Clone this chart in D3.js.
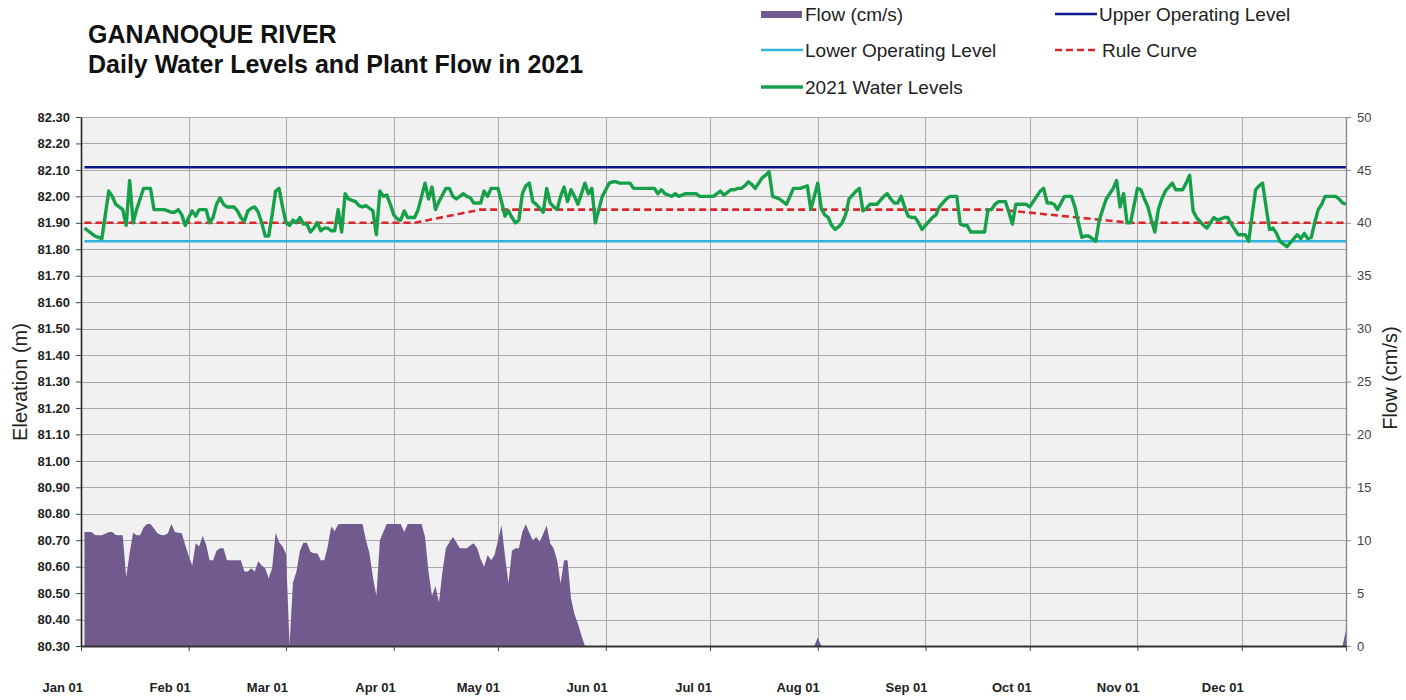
<!DOCTYPE html>
<html>
<head>
<meta charset="utf-8">
<script src="https://cdn.jsdelivr.net/npm/d3@7"></script>
<style>
  body { margin: 0; background: #fff; }
  text { font-family: "Liberation Sans", Arial, sans-serif; }
</style>
</head>
<body>
<script>
// ---- data ----
// first daily reading is day-of-year 1 (Jan 02)
var firstDay = 1;

// 2021 water levels (m), one value per day from Jan 02 to Dec 31
var levels = [
  81.88, 81.87, 81.86, 81.85, 81.845, 81.84, 81.93, 82.02, 82.00, 81.97,
  81.96, 81.95, 81.89, 82.06, 81.90, 81.95, 81.99, 82.03, 82.03, 82.03,
  81.95, 81.95, 81.95, 81.95, 81.945, 81.94, 81.94, 81.95, 81.93, 81.89,
  81.92, 81.945, 81.925, 81.95, 81.95, 81.95, 81.90, 81.92, 81.97, 81.995,
  81.97, 81.96, 81.96, 81.96, 81.945, 81.92, 81.905, 81.945, 81.955, 81.96,
  81.94, 81.90, 81.85, 81.85, 81.93, 82.02, 82.03, 81.96, 81.90, 81.89,
  81.91, 81.90, 81.92, 81.895, 81.895, 81.865, 81.88, 81.90, 81.87, 81.88,
  81.88, 81.87, 81.87, 81.95, 81.865, 82.01, 81.99, 81.985, 81.98, 81.965,
  81.96, 81.965, 81.955, 81.945, 81.855, 82.02, 82.00, 82.005, 81.97, 81.93,
  81.915, 81.91, 81.945, 81.92, 81.92, 81.92, 81.95, 82.00, 82.05, 81.99,
  82.035, 81.95, 81.98, 82.005, 82.03, 82.03, 82.00, 81.99, 82.00, 82.01,
  82.00, 81.995, 81.975, 81.975, 81.975, 82.02, 82.00, 82.03, 82.03, 82.03,
  81.98, 81.925, 81.945, 81.92, 81.90, 81.91, 82.01, 82.04, 82.05, 81.98,
  81.97, 81.955, 81.94, 82.03, 81.975, 81.96, 81.95, 82.00, 82.035, 81.98,
  82.025, 82.00, 81.97, 82.01, 82.05, 82.01, 82.03, 81.90, 81.95, 82.00,
  82.025, 82.05, 82.055, 82.055, 82.05, 82.05, 82.05, 82.05, 82.03, 82.03,
  82.03, 82.03, 82.03, 82.03, 82.03, 82.01, 82.025, 82.01, 82.005, 82.00,
  82.01, 82.00, 82.005, 82.01, 82.01, 82.01, 82.01, 82.00, 82.00, 82.00,
  82.00, 82.00, 82.01, 82.02, 82.005, 82.015, 82.025, 82.025, 82.03, 82.03,
  82.04, 82.055, 82.045, 82.03, 82.05, 82.07, 82.08, 82.093, 82.00, 81.995,
  81.99, 81.98, 81.97, 82.00, 82.03, 82.03, 82.03, 82.035, 82.04, 81.95,
  82.00, 82.05, 81.955, 81.93, 81.92, 81.89, 81.875, 81.885, 81.90, 81.93,
  81.99, 82.005, 82.02, 82.03, 81.945, 81.955, 81.97, 81.97, 81.97, 81.985,
  82.00, 82.01, 81.99, 81.975, 81.975, 82.00, 81.96, 81.925, 81.92, 81.92,
  81.90, 81.875, 81.89, 81.905, 81.92, 81.93, 81.96, 81.975, 81.99, 82.00,
  82.00, 82.00, 81.895, 81.89, 81.89, 81.865, 81.865, 81.865, 81.865, 81.865,
  81.95, 81.95, 81.97, 81.98, 81.98, 81.98, 81.94, 81.895, 81.97, 81.97,
  81.97, 81.97, 81.96, 81.98, 82.00, 82.02, 82.03, 81.975, 81.975, 81.97,
  81.95, 81.975, 82.00, 82.00, 82.00, 81.96, 81.90, 81.845, 81.85, 81.85,
  81.84, 81.83, 81.91, 81.95, 81.99, 82.01, 82.03, 82.06, 81.96, 82.01,
  81.90, 81.90, 81.965, 82.03, 82.025, 81.99, 81.96, 81.91, 81.865, 81.95,
  81.99, 82.02, 82.035, 82.05, 82.025, 82.025, 82.025, 82.05, 82.08, 81.945,
  81.92, 81.905, 81.89, 81.88, 81.90, 81.92, 81.91, 81.915, 81.92, 81.92,
  81.895, 81.875, 81.855, 81.855, 81.855, 81.83, 81.93, 82.025, 82.04, 82.05,
  81.96, 81.875, 81.88, 81.86, 81.83, 81.82, 81.81, 81.825, 81.84, 81.855,
  81.84, 81.86, 81.84, 81.845, 81.90, 81.95, 81.97, 82.00, 82.00, 82.00,
  82.00, 81.99, 81.975, 81.97
];

// plant flow (cm/s), same days
var flows = [
  10.78, 10.78, 10.78, 10.5, 10.46, 10.46, 10.6, 10.78, 10.78, 10.5,
  10.46, 10.46, 6.5, 8.8, 10.7, 10.46, 10.46, 11.2, 11.53, 11.53,
  11.1, 10.65, 10.5, 10.46, 10.65, 11.53, 10.78, 10.7, 10.65, 9.55,
  8.5, 7.6, 9.7, 9.4, 10.4, 9.6, 8.1, 8.1, 9.0, 9.25,
  9.25, 8.1, 8.1, 8.1, 8.1, 8.1, 7.03, 7.03, 7.34, 7.03,
  8.0, 7.6, 7.34, 6.4, 7.34, 10.7, 9.8, 9.4, 8.7, 0.1,
  6.0, 7.03, 9.0, 9.77, 9.77, 8.9, 8.76, 8.76, 8.1, 8.1,
  9.4, 11.3, 10.84, 11.5, 11.53, 11.53, 11.53, 11.53, 11.53, 11.53,
  11.53, 10.0, 8.76, 6.5, 4.73, 10.0, 10.8, 11.53, 11.53, 11.53,
  11.53, 11.53, 10.78, 11.53, 11.53, 11.53, 11.53, 11.53, 10.3, 7.0,
  4.73, 5.67, 4.1, 7.0, 9.25, 9.8, 10.3, 9.8, 9.25, 9.25,
  9.25, 9.5, 9.7, 9.25, 8.2, 7.5, 8.6, 8.1, 8.6, 10.0,
  11.4, 8.5, 5.9, 9.0, 9.25, 9.25, 10.8, 11.5, 10.7, 10.0,
  10.3, 9.85, 10.6, 11.4, 9.7, 9.25, 8.1, 5.9, 8.1, 8.1,
  4.5, 3.0, 2.1, 1.0, 0, 0, 0, 0, 0, 0,
  0, 0, 0, 0, 0, 0, 0, 0, 0, 0, 0, 0, 0, 0, 0, 0, 0, 0, 0, 0, 0, 0, 0, 0, 0, 0, 0, 0, 0, 0,
  0, 0, 0, 0, 0, 0, 0, 0, 0, 0, 0, 0, 0, 0, 0, 0, 0, 0, 0, 0, 0, 0, 0, 0, 0, 0, 0, 0, 0, 0,
  0, 0.8, 0, 0, 0, 0, 0, 0, 0, 0, 0, 0, 0, 0, 0, 0, 0, 0, 0, 0, 0, 0, 0, 0, 0, 0, 0, 0, 0, 0,
  0, 0, 0, 0, 0, 0, 0, 0, 0, 0, 0, 0, 0, 0, 0, 0, 0, 0, 0, 0, 0, 0, 0, 0, 0, 0, 0, 0, 0, 0,
  0, 0, 0, 0, 0, 0, 0, 0, 0, 0, 0, 0, 0, 0, 0, 0, 0, 0, 0, 0, 0, 0, 0, 0, 0, 0, 0, 0, 0, 0,
  0, 0, 0, 0, 0, 0, 0, 0, 0, 0, 0, 0, 0, 0, 0, 0, 0, 0, 0, 0, 0, 0, 0, 0, 0, 0, 0, 0, 0, 0,
  0, 0, 0, 0, 0, 0, 0, 0, 0, 0, 0, 0, 0, 0, 0, 0, 0, 0, 0, 0, 0, 0, 0, 0, 0, 0, 0, 0, 0, 0,
  0, 0, 0, 1.5
];

// operating levels (m)
var upperLevel = 82.11;
var lowerLevel = 81.83;

// rule curve breakpoints (day of year, m)
var ruleDays   = [1, 96, 115, 264, 302, 364];
var ruleValues = [81.90, 81.90, 81.95, 81.95, 81.90, 81.90];

// axis ticks
var elevTicks = [80.30, 80.40, 80.50, 80.60, 80.70, 80.80, 80.90, 81.00, 81.10, 81.20, 81.30,
                 81.40, 81.50, 81.60, 81.70, 81.80, 81.90, 82.00, 82.10, 82.20, 82.30];
var flowTicks = [0, 5, 10, 15, 20, 25, 30, 35, 40, 45, 50];
var monthLabels = ["Jan 01", "Feb 01", "Mar 01", "Apr 01", "May 01", "Jun 01",
                   "Jul 01", "Aug 01", "Sep 01", "Oct 01", "Nov 01", "Dec 01"];

var titleLines = ["GANANOQUE RIVER", "Daily Water Levels and Plant Flow in 2021"];
var legendNames = ["Flow (cm/s)", "Upper Operating Level", "Lower Operating Level",
                   "Rule Curve", "2021 Water Levels"];

// ---- colours ----
var cFlow = "#705a8e", cUpper = "#0c1a8c", cLower = "#36b3dc",
    cRule = "#d9262b", cLevel = "#17a04a";

// ---- layout ----
var width = 1406, height = 700;
var plot = {left: 81, right: 1346, top: 117, bottom: 646};

var svg = d3.select("body").append("svg")
    .attr("width", width)
    .attr("height", height);

var jan1 = new Date(2021, 0, 1);
function dayDate(d) { return d3.timeDay.offset(jan1, d); }

var x = d3.scaleTime()
    .domain([jan1, new Date(2021, 11, 31)])
    .range([plot.left, plot.right]);
var yElev = d3.scaleLinear().domain([80.3, 82.3]).range([plot.bottom, plot.top]);
var yFlow = d3.scaleLinear().domain([0, 50]).range([plot.bottom, plot.top]);

var months = d3.timeMonth.range(jan1, new Date(2022, 0, 1));

// plot background
svg.append("rect")
    .attr("x", plot.left).attr("y", plot.top)
    .attr("width", plot.right - plot.left)
    .attr("height", plot.bottom - plot.top)
    .attr("fill", "#f1f1f1");

// grid
var grid = svg.append("g").attr("stroke", "#a9a9a9").attr("stroke-width", 1);
grid.selectAll("line.h")
    .data(elevTicks.slice(1))
    .enter().append("line")
    .attr("x1", plot.left).attr("x2", plot.right)
    .attr("y1", function(d) { return Math.round(yElev(d)) + 0.5; })
    .attr("y2", function(d) { return Math.round(yElev(d)) + 0.5; });
grid.selectAll("line.v")
    .data(months.slice(1))
    .enter().append("line")
    .attr("y1", plot.top).attr("y2", plot.bottom)
    .attr("x1", function(d) { return Math.round(x(d)) + 0.5; })
    .attr("x2", function(d) { return Math.round(x(d)) + 0.5; });

// flow area (right axis)
var flowPts = flows.map(function(v, i) { return {date: dayDate(firstDay + i), v: v}; });
svg.append("path")
    .datum(flowPts)
    .attr("fill", cFlow)
    .attr("d", d3.area()
        .x(function(d) { return x(d.date); })
        .y0(yFlow(0))
        .y1(function(d) { return yFlow(d.v); }));

// operating levels
var firstDate = dayDate(firstDay), lastDate = dayDate(firstDay + levels.length - 1);
svg.append("line")
    .attr("x1", x(firstDate)).attr("x2", x(lastDate))
    .attr("y1", yElev(upperLevel)).attr("y2", yElev(upperLevel))
    .attr("stroke", cUpper).attr("stroke-width", 2.6);
svg.append("line")
    .attr("x1", x(firstDate)).attr("x2", x(lastDate))
    .attr("y1", yElev(lowerLevel)).attr("y2", yElev(lowerLevel))
    .attr("stroke", cLower).attr("stroke-width", 2.6);

// rule curve
var rulePts = ruleDays.map(function(d, i) { return {date: dayDate(d), v: ruleValues[i]}; });
var lineGen = d3.line()
    .x(function(d) { return x(d.date); })
    .y(function(d) { return yElev(d.v); });
svg.append("path")
    .datum(rulePts)
    .attr("fill", "none")
    .attr("stroke", cRule)
    .attr("stroke-width", 2.6)
    .attr("stroke-dasharray", "7,4")
    .attr("d", lineGen);

// water levels
var levelPts = levels.map(function(v, i) { return {date: dayDate(firstDay + i), v: v}; });
svg.append("path")
    .datum(levelPts)
    .attr("fill", "none")
    .attr("stroke", cLevel)
    .attr("stroke-width", 3.4)
    .attr("stroke-linejoin", "round")
    .attr("d", lineGen);

// left axis
var gLeft = svg.append("g")
    .attr("transform", "translate(" + plot.left + ",0)")
    .call(d3.axisLeft(yElev)
        .tickValues(elevTicks)
        .tickFormat(d3.format(".2f"))
        .tickSize(5)
        .tickSizeOuter(0)
        .tickPadding(6));
gLeft.select(".domain").attr("stroke", "#222").attr("stroke-width", 1.6);
gLeft.selectAll(".tick line").attr("stroke", "#444");
gLeft.selectAll("text")
    .attr("font-family", "Liberation Sans, Arial, sans-serif")
    .attr("font-size", 13).attr("font-weight", "bold").attr("fill", "#222");

// right axis
var gRight = svg.append("g")
    .attr("transform", "translate(" + plot.right + ",0)")
    .call(d3.axisRight(yFlow)
        .tickValues(flowTicks)
        .tickSize(5)
        .tickSizeOuter(0)
        .tickPadding(6));
gRight.select(".domain").attr("stroke", "#8a8a8a").attr("stroke-width", 1.4);
gRight.selectAll(".tick line").attr("stroke", "#8a8a8a");
gRight.selectAll("text")
    .attr("font-family", "Liberation Sans, Arial, sans-serif")
    .attr("font-size", 13).attr("fill", "#444");

// bottom axis
var gBottom = svg.append("g")
    .attr("transform", "translate(0," + plot.bottom + ")")
    .call(d3.axisBottom(x)
        .tickValues(months.concat([new Date(2021, 11, 31)]))
        .tickFormat("")
        .tickSize(5)
        .tickSizeOuter(0));
gBottom.select(".domain").attr("stroke", "#333").attr("stroke-width", 1.8);
gBottom.selectAll(".tick line").attr("stroke", "#444");

svg.append("g").selectAll("text")
    .data(months)
    .enter().append("text")
    .attr("x", function(d) { return x(d) + 2; })
    .attr("y", 692)
    .attr("text-anchor", "end")
    .attr("font-size", 13)
    .attr("font-weight", "bold")
    .attr("fill", "#222")
    .text(function(d, i) { return monthLabels[i]; });

// axis titles
svg.append("text")
    .attr("transform", "translate(27,382) rotate(-90)")
    .attr("text-anchor", "middle")
    .attr("font-size", 20)
    .attr("fill", "#222")
    .text("Elevation (m)");
svg.append("text")
    .attr("transform", "translate(1397,378) rotate(-90)")
    .attr("text-anchor", "middle")
    .attr("font-size", 20)
    .attr("fill", "#222")
    .text("Flow (cm/s)");

// title
svg.append("g").selectAll("text")
    .data(titleLines)
    .enter().append("text")
    .attr("x", 88)
    .attr("y", function(d, i) { return 43 + i * 30; })
    .attr("font-size", 25)
    .attr("font-weight", "bold")
    .attr("fill", "#111")
    .text(function(d) { return d; });

// legend
var legendPos = [[761, 14], [1055, 14], [761, 50], [1055, 50], [761, 87]];
var legend = svg.append("g");
legendNames.forEach(function(name, i) {
    var p = legendPos[i];
    if (i === 0) {
        legend.append("rect")
            .attr("x", p[0]).attr("y", p[1] - 3)
            .attr("width", 41).attr("height", 7)
            .attr("fill", cFlow);
    } else {
        var col = [null, cUpper, cLower, cRule, cLevel][i];
        legend.append("line")
            .attr("x1", p[0]).attr("x2", p[0] + (i === 3 ? 44 : 42))
            .attr("y1", p[1]).attr("y2", p[1])
            .attr("stroke", col)
            .attr("stroke-width", i === 4 ? 3.4 : 2.6)
            .attr("stroke-dasharray", i === 3 ? "7,4" : null);
    }
    legend.append("text")
        .attr("x", (i === 0 ? p[0] + 44 : p[0] + (i === 3 ? 47 : 44)))
        .attr("y", p[1] + 7)
        .attr("font-size", 19)
        .attr("fill", "#222")
        .text(name);
});
</script>
</body>
</html>
